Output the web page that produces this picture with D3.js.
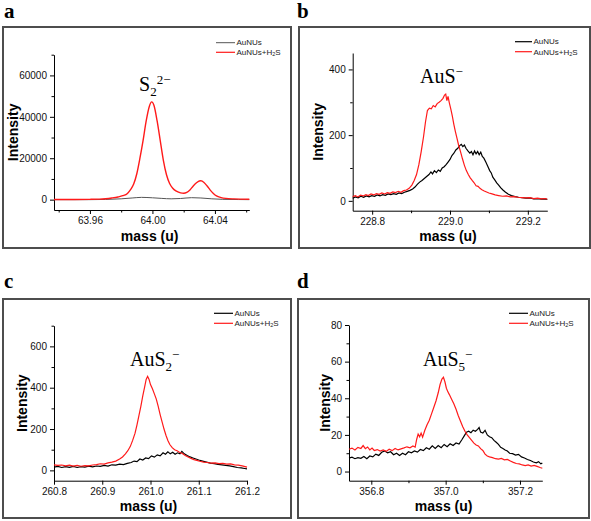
<!DOCTYPE html>
<html><head><meta charset="utf-8">
<script src="https://cdn.jsdelivr.net/npm/d3@7"></script>
<style>
body{margin:0;background:#fff;}
svg{display:block;}
text{font-family:"Liberation Sans",Arial,sans-serif;}
</style></head>
<body>
<svg id="c" width="591" height="521"></svg>
<script>
// ---------- DATA ----------
const panelLetters = ["a","b","c","d"];
const seriesNames = ["AuNUs","AuNUs+H2S"];
const yTicksA = [0,20000,40000,60000];
const yTicksB = [0,200,400];
const yTicksC = [0,200,400,600];
const yTicksD = [0,20,40,60,80];
const xTicksA = [63.96,64.00,64.04];
const xTicksB = [228.8,229.0,229.2];
const xTicksC = [260.8,260.9,261.0,261.1,261.2];
const xTicksD = [356.8,357.0,357.2];

// panel a : S2^2-
const auA = [[63.937,0],[63.960,0],[63.970,100],[63.980,400],[63.987,800],[63.993,1100],[64.000,900],[64.006,600],[64.012,400],[64.018,550],[64.025,950],[64.031,800],[64.038,400],[64.045,150],[64.055,50],[64.062,0]];
const h2sA = [[63.937,100],[63.950,100],[63.960,150],[63.966,250],[63.970,450],[63.974,800],[63.978,1300],[63.981,1900],[63.984,3000],[63.986,4800],[63.988,7500],[63.990,12500],[63.992,20000],[63.994,28500],[63.996,38000],[63.998,45000],[63.9995,47200],[64.001,45500],[64.003,38000],[64.005,28500],[64.007,19000],[64.009,12000],[64.011,7800],[64.013,5500],[64.015,4200],[64.018,3300],[64.020,3100],[64.022,3500],[64.024,4700],[64.026,6500],[64.028,8000],[64.030,9000],[64.031,9100],[64.033,8300],[64.035,6600],[64.037,4600],[64.039,3000],[64.041,1800],[64.044,1000],[64.047,600],[64.052,350],[64.057,250],[64.062,200]];

// panel b : AuS-
const auB = [[228.750,8],[228.757,12],[228.764,9],[228.771,14],[228.778,11],[228.785,15],[228.792,12],[228.799,16],[228.806,14],[228.813,18],[228.820,15],[228.827,19],[228.834,17],[228.841,21],[228.848,19],[228.855,22],[228.862,20],[228.869,24],[228.876,22],[228.883,26],[228.890,29],[228.897,32],[228.904,36],[228.910,42],[228.916,50],[228.922,57],[228.928,62],[228.934,68],[228.940,74],[228.946,80],[228.951,88],[228.955,82],[228.960,92],[228.965,86],[228.970,94],[228.975,90],[228.980,100],[228.985,104],[228.990,110],[228.995,118],[229.000,126],[229.005,138],[229.010,145],[229.015,155],[229.020,160],[229.025,168],[229.029,172],[229.033,165],[229.037,170],[229.041,160],[229.046,152],[229.051,145],[229.055,150],[229.059,140],[229.063,152],[229.067,143],[229.071,150],[229.075,140],[229.079,148],[229.083,135],[229.087,130],[229.092,118],[229.097,105],[229.102,92],[229.106,85],[229.110,72],[229.115,64],[229.120,55],[229.125,48],[229.130,40],[229.136,33],[229.142,27],[229.150,20],[229.158,16],[229.167,13],[229.176,11],[229.185,10],[229.195,8],[229.205,9],[229.215,6],[229.225,7],[229.235,5],[229.245,6],[229.250,4]];
const h2sB = [[228.750,13],[228.757,16],[228.763,12],[228.770,17],[228.777,15],[228.784,19],[228.790,16],[228.797,21],[228.804,18],[228.811,22],[228.818,20],[228.825,24],[228.832,21],[228.839,25],[228.846,23],[228.853,27],[228.860,25],[228.867,29],[228.874,26],[228.881,31],[228.888,33],[228.895,38],[228.902,48],[228.908,62],[228.914,80],[228.920,110],[228.926,150],[228.932,195],[228.937,240],[228.942,275],[228.947,282],[228.952,280],[228.957,290],[228.962,286],[228.967,296],[228.972,300],[228.977,305],[228.982,312],[228.986,322],[228.989,325],[228.992,305],[228.995,318],[228.998,300],[229.002,280],[229.006,258],[229.010,232],[229.014,210],[229.018,190],[229.022,170],[229.027,150],[229.032,128],[229.037,108],[229.042,92],[229.047,80],[229.052,70],[229.057,62],[229.062,55],[229.067,46],[229.072,44],[229.077,38],[229.082,34],[229.088,30],[229.094,27],[229.100,24],[229.108,21],[229.116,18],[229.125,16],[229.135,14],[229.145,15],[229.155,12],[229.165,13],[229.175,11],[229.185,10],[229.195,9],[229.205,10],[229.215,7],[229.225,8],[229.235,6],[229.245,7],[229.250,5]];

// panel c : AuS2-
const auC = [[260.800,16],[260.808,19],[260.816,14],[260.824,18],[260.832,15],[260.840,19],[260.848,14],[260.856,18],[260.864,16],[260.872,20],[260.880,17],[260.888,21],[260.896,19],[260.904,24],[260.912,21],[260.920,27],[260.928,25],[260.936,30],[260.944,28],[260.952,34],[260.960,38],[260.966,45],[260.972,42],[260.978,55],[260.984,50],[260.990,60],[260.996,57],[261.002,70],[261.008,64],[261.014,75],[261.020,70],[261.026,85],[261.031,78],[261.036,90],[261.041,80],[261.046,88],[261.051,78],[261.056,85],[261.061,80],[261.065,92],[261.070,80],[261.076,72],[261.082,65],[261.088,60],[261.094,55],[261.100,50],[261.108,45],[261.116,40],[261.124,35],[261.132,33],[261.140,29],[261.148,27],[261.156,24],[261.164,22],[261.172,18],[261.180,14],[261.188,12],[261.195,9],[261.200,7]];
const h2sC = [[260.800,27],[260.808,24],[260.816,26],[260.824,22],[260.832,25],[260.840,21],[260.848,24],[260.856,20],[260.864,23],[260.872,22],[260.880,26],[260.888,28],[260.896,32],[260.904,30],[260.912,36],[260.920,40],[260.928,45],[260.936,55],[260.942,65],[260.948,80],[260.953,95],[260.958,115],[260.963,145],[260.968,180],[260.972,220],[260.976,265],[260.980,310],[260.984,360],[260.988,405],[260.991,440],[260.994,455],[260.997,440],[261.000,415],[261.004,395],[261.008,370],[261.012,345],[261.016,310],[261.020,270],[261.024,235],[261.028,200],[261.032,170],[261.036,145],[261.040,125],[261.045,110],[261.050,100],[261.055,95],[261.060,88],[261.066,82],[261.072,72],[261.078,65],[261.084,58],[261.090,52],[261.096,48],[261.102,44],[261.110,40],[261.118,38],[261.126,35],[261.134,36],[261.142,33],[261.150,34],[261.158,30],[261.166,31],[261.174,27],[261.182,25],[261.190,22],[261.200,16]];

// panel d : AuS5-
const auD = [[356.740,7.3],[356.748,7.8],[356.756,7.0],[356.764,7.6],[356.772,7.2],[356.780,8.2],[356.788,7.0],[356.796,8.5],[356.804,8.0],[356.812,9.5],[356.820,8.8],[356.828,10.5],[356.836,11.2],[356.844,10.2],[356.852,10.8],[356.860,9.2],[356.868,10.0],[356.876,8.8],[356.884,10.0],[356.892,9.2],[356.900,10.8],[356.908,10.2],[356.916,11.2],[356.924,10.6],[356.932,12.0],[356.940,11.4],[356.948,13.0],[356.956,12.2],[356.964,14.0],[356.972,12.6],[356.980,14.2],[356.988,13.0],[356.996,14.8],[357.004,13.6],[357.012,15.2],[357.020,14.2],[357.028,15.6],[357.036,15.0],[357.044,17.5],[357.050,19.5],[357.056,21.5],[357.062,22.0],[357.068,21.2],[357.074,22.6],[357.080,22.0],[357.086,23.0],[357.090,24.0],[357.094,21.5],[357.100,21.0],[357.106,22.5],[357.112,20.0],[357.118,19.0],[357.124,18.5],[357.130,17.0],[357.136,16.0],[357.142,14.8],[357.148,13.2],[357.154,12.6],[357.160,11.8],[357.166,11.2],[357.172,10.0],[357.180,9.8],[357.188,9.0],[357.196,9.4],[357.204,8.0],[357.212,7.4],[357.220,6.6],[357.228,6.0],[357.236,5.2],[357.244,4.8],[357.250,5.4],[357.256,4.2],[357.260,4.6]];
const h2sD = [[356.740,12.2],[356.748,12.8],[356.756,11.8],[356.764,13.2],[356.772,12.6],[356.778,14.2],[356.784,12.5],[356.790,13.4],[356.796,11.8],[356.802,12.8],[356.808,11.5],[356.816,12.0],[356.824,11.2],[356.832,11.8],[356.840,11.0],[356.848,12.2],[356.856,11.4],[356.864,12.6],[356.872,11.8],[356.880,12.4],[356.888,12.9],[356.896,13.5],[356.904,13.0],[356.912,14.0],[356.918,13.3],[356.922,17.5],[356.926,20.5],[356.930,19.0],[356.934,21.0],[356.938,18.8],[356.944,22.5],[356.950,25.5],[356.956,28.0],[356.962,31.5],[356.968,35.0],[356.974,38.5],[356.980,43.0],[356.985,47.5],[356.990,50.5],[356.994,51.5],[356.998,49.0],[357.002,45.5],[357.006,43.5],[357.010,42.0],[357.016,39.5],[357.022,37.0],[357.028,34.0],[357.034,30.5],[357.040,27.5],[357.046,24.5],[357.052,22.0],[357.058,20.0],[357.064,18.5],[357.070,17.0],[357.076,15.5],[357.082,14.5],[357.088,14.0],[357.094,12.5],[357.100,11.5],[357.106,9.5],[357.112,8.5],[357.118,8.0],[357.126,7.6],[357.134,7.0],[357.142,6.8],[357.150,7.2],[357.158,6.4],[357.166,6.6],[357.174,5.8],[357.182,5.0],[357.190,4.4],[357.198,4.2],[357.206,3.6],[357.214,3.2],[357.222,3.6],[357.230,3.0],[357.238,3.4],[357.246,2.8],[357.254,2.2],[357.260,1.8]];

// ---------- LAYOUT ----------
const panels = [
 {letter:"a", lx:4, ly:18, frame:[3,27,291,248], plot:[54,54.7,249.3,210], xd:[63.937,64.062], yd:[-5000,70000],
  xt:xTicksA, xm:[63.94,63.98,64.02,64.06], xfmt:d3.format(".2f"), yt:yTicksA, ym:[10000,30000,50000,70000],
  au:auA, h2s:h2sA, auColor:"#555", auW:1, smooth:true,
  leg:[216,235,42.7,52.3], ytx:13, ann:{x:139,y:91,base:"S",sub:"2",sup:"2\u2212"}},
 {letter:"b", lx:297, ly:18, frame:[299,27,590,248], plot:[352.7,53,547.3,210.7], xd:[228.75,229.25], yd:[-30,450],
  xt:xTicksB, xm:[228.9,229.1], xfmt:d3.format(".1f"), yt:yTicksB, ym:[100,300],
  au:auB, h2s:h2sB, auColor:"#000", auW:1.2, smooth:false,
  leg:[515,532,41.7,51.7], ytx:318, ann:{x:420,y:83,base:"AuS",sub:"",sup:"\u2212"}},
 {letter:"c", lx:4, ly:288, frame:[3,299,291,518], plot:[54,325.7,247,480.7], xd:[260.8,261.2], yd:[-50,700],
  xt:xTicksC, xm:[], xfmt:d3.format(".1f"), yt:yTicksC, ym:[100,300,500,700],
  au:auC, h2s:h2sC, auColor:"#000", auW:1.2, smooth:false,
  leg:[214,233,313.3,323.3], ytx:22, ann:{x:130,y:366,base:"AuS",sub:"2",sup:"\u2212"}},
 {letter:"d", lx:297, ly:288, frame:[298,299,589,518], plot:[349,325,542.3,480.7], xd:[356.74,357.26], yd:[-5,80],
  xt:xTicksD, xm:[356.9,357.1], xfmt:d3.format(".1f"), yt:yTicksD, ym:[10,30,50,70],
  au:auD, h2s:h2sD, auColor:"#000", auW:1.2, smooth:false,
  leg:[509,528,313.3,323.3], ytx:325, ann:{x:423,y:366,base:"AuS",sub:"5",sup:"\u2212"}}
];

const svg = d3.select("#c");
const RED = "#ff1a1a";

panels.forEach(p => {
  const g = svg.append("g");
  // frame
  g.append("rect").attr("x",p.frame[0]).attr("y",p.frame[1])
    .attr("width",p.frame[2]-p.frame[0]).attr("height",p.frame[3]-p.frame[1])
    .attr("fill","none").attr("stroke","#4d4d4d").attr("stroke-width",2);
  // letter
  g.append("text").attr("x",p.lx).attr("y",p.ly).text(p.letter)
    .style("font-family","'Liberation Serif','Times New Roman',serif").style("font-weight","bold").style("font-size","21px");

  const [x0,y0,x1,y1] = p.plot;
  const x = d3.scaleLinear().domain(p.xd).range([x0,x1]);
  const y = d3.scaleLinear().domain(p.yd).range([y1,y0]);

  // axes
  const xa = g.append("g").attr("transform",`translate(0,${y1})`)
    .call(d3.axisBottom(x).tickValues(p.xt).tickFormat(p.xfmt).tickSize(4).tickPadding(3).tickSizeOuter(0));
  g.append("g").attr("transform",`translate(0,${y1})`)
    .call(d3.axisBottom(x).tickValues(p.xm).tickFormat("").tickSize(2.5).tickSizeOuter(0))
    .select(".domain").remove();
  const ya = g.append("g").attr("transform",`translate(${x0},0)`)
    .call(d3.axisLeft(y).tickValues(p.yt).tickFormat(d3.format("d")).tickSize(4).tickPadding(3).tickSizeOuter(0));
  g.append("g").attr("transform",`translate(${x0},0)`)
    .call(d3.axisLeft(y).tickValues(p.ym).tickFormat("").tickSize(2.5).tickSizeOuter(0))
    .select(".domain").remove();
  g.selectAll(".tick text").style("font-size","10px").style("font-family","'Liberation Sans',Arial,sans-serif").attr("fill","#111");
  g.selectAll(".domain, .tick line").attr("stroke","#000").attr("stroke-width",1);

  // axis titles
  g.append("text").attr("x",(x0+x1)/2 - 2).attr("y",p.frame[3]-7).attr("text-anchor","middle")
    .style("font-weight","bold").style("font-size","14px").text("mass (u)");
  g.append("text").attr("transform",`translate(${p.ytx},${(y0+y1)/2})rotate(-90)`)
    .attr("text-anchor","middle").attr("dominant-baseline","central")
    .style("font-weight","bold").style("font-size","14px").text("Intensity");

  // lines
  const line = d3.line().x(d=>x(d[0])).y(d=>y(d[1])).curve(p.smooth ? d3.curveMonotoneX : d3.curveLinear);
  g.append("path").datum(p.au).attr("d",line).attr("fill","none").attr("stroke",p.auColor).attr("stroke-width",p.auW);
  g.append("path").datum(p.h2s).attr("d",line).attr("fill","none").attr("stroke",RED).attr("stroke-width",p.smooth?1.4:1.2);

  // legend
  const [lx0,lx1,ly0,ly1] = p.leg;
  g.append("line").attr("x1",lx0).attr("x2",lx1).attr("y1",ly0).attr("y2",ly0).attr("stroke",p.auColor).attr("stroke-width",p.auW);
  g.append("line").attr("x1",lx0).attr("x2",lx1).attr("y1",ly1).attr("y2",ly1).attr("stroke",RED).attr("stroke-width",1.2);
  g.append("text").attr("x",lx1+1.5).attr("y",ly0).attr("dominant-baseline","central").style("font-size","8px").attr("fill","#222").text(seriesNames[0]);
  const t2 = g.append("text").attr("x",lx1+1.5).attr("y",ly1).attr("dominant-baseline","central").style("font-size","8px").attr("fill","#222");
  t2.append("tspan").text("AuNUs+H");
  t2.append("tspan").attr("dy",2).style("font-size","5.5px").text("2");
  t2.append("tspan").attr("dy",-2).text("S");

  // annotation
  const a = g.append("text").attr("x",p.ann.x).attr("y",p.ann.y)
    .style("font-family","'Liberation Serif','Times New Roman',serif").style("font-size","20px").attr("fill","#000");
  a.append("tspan").text(p.ann.base);
  if (p.ann.sub) {
    a.append("tspan").attr("dy",5).style("font-size","13px").text(p.ann.sub);
    a.append("tspan").attr("dy",-12).style("font-size","13px").text(p.ann.sup);
  } else {
    a.append("tspan").attr("dy",-7).style("font-size","13px").text(p.ann.sup);
  }
});
</script>
</body></html>
